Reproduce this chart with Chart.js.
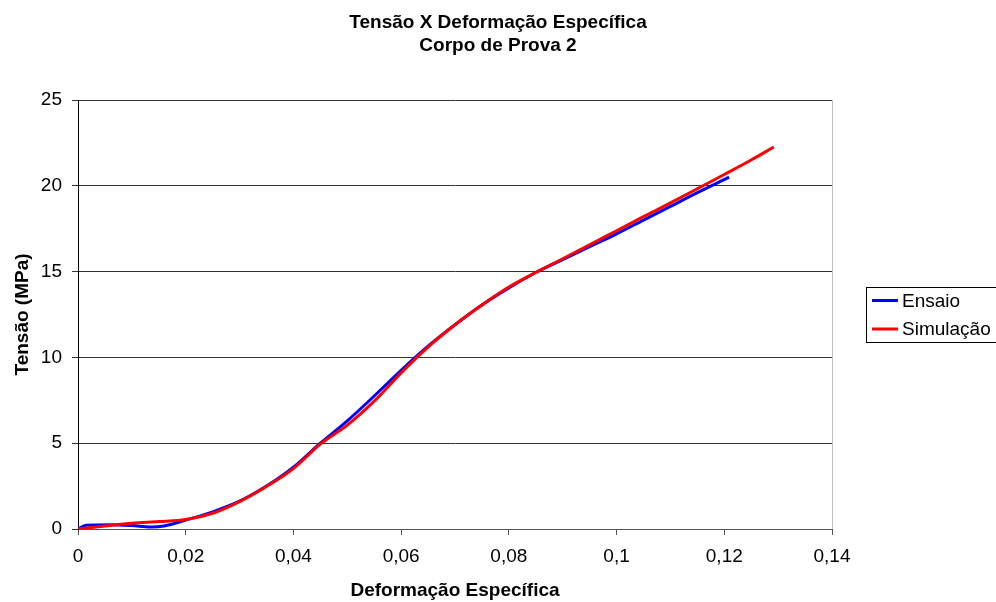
<!DOCTYPE html>
<html>
<head>
<meta charset="utf-8">
<script src="https://cdn.jsdelivr.net/npm/chart.js@4/dist/chart.umd.min.js"></script>
<style>
html,body{margin:0;padding:0;background:#fff;}
#wrap{width:996px;height:602px;}
</style>
</head>
<body>
<div id="wrap"><canvas id="c" width="996" height="602"></canvas></div>
<script>
// ---- data ----
const titleLines = ["Tensão X Deformação Específica", "Corpo de Prova 2"];
const xAxisTitle = "Deformação Específica";
const yAxisTitle = "Tensão (MPa)";
const seriesNames = ["Ensaio", "Simulação"];

const ensaioX = [0, 0.0015, 0.006, 0.01, 0.0135, 0.016, 0.02, 0.025, 0.03, 0.035, 0.04, 0.045, 0.05, 0.055, 0.06, 0.065, 0.07, 0.075, 0.08, 0.085, 0.09, 0.095, 0.1, 0.105, 0.11, 0.115, 0.1209];
const ensaioY = [0, 0.22, 0.25, 0.2, 0.12, 0.18, 0.52, 1.0, 1.62, 2.5, 3.6, 5.0, 6.3, 7.75, 9.25, 10.65, 11.9, 13.05, 14.05, 14.95, 15.7, 16.45, 17.2, 18.0, 18.8, 19.6, 20.5];

const simX = [0, 0.005, 0.01, 0.015, 0.02, 0.025, 0.03, 0.035, 0.04, 0.045, 0.05, 0.055, 0.06, 0.065, 0.07, 0.075, 0.08, 0.085, 0.09, 0.095, 0.1, 0.105, 0.11, 0.115, 0.12, 0.125, 0.1292];
const simY = [0, 0.17, 0.33, 0.43, 0.55, 0.92, 1.6, 2.48, 3.52, 4.95, 6.05, 7.45, 9.1, 10.6, 11.9, 13.05, 14.1, 14.95, 15.75, 16.56, 17.38, 18.2, 19.0, 19.83, 20.66, 21.5, 22.26];

const xTicks = [0, 0.02, 0.04, 0.06, 0.08, 0.1, 0.12, 0.14];
const yTicks = [0, 5, 10, 15, 20, 25];

const seriesColors = ["#0000ff", "#ff0000"];

function toPoints(xs, ys) { return xs.map((x, i) => ({x: x, y: ys[i]})); }

const FONT = "'Liberation Sans', Arial, sans-serif";

const decorPlugin = {
  id: 'decor',
  afterDraw(chart) {
    const ctx = chart.ctx;
    ctx.save();
    // chart title (two lines, centred on the page)
    ctx.fillStyle = '#000';
    ctx.font = 'bold 19px ' + FONT;
    ctx.textAlign = 'center';
    ctx.textBaseline = 'alphabetic';
    ctx.fillText(titleLines[0], 498, 28);
    ctx.fillText(titleLines[1], 498, 51);
    // plot-area right border (light gray)
    const a = chart.chartArea;
    ctx.strokeStyle = '#c0c0c0';
    ctx.lineWidth = 1;
    ctx.beginPath();
    ctx.moveTo(Math.round(a.right) + 0.5, a.top);
    ctx.lineTo(Math.round(a.right) + 0.5, a.bottom);
    ctx.stroke();
    // legend box
    ctx.strokeStyle = '#000';
    ctx.lineWidth = 1;
    ctx.strokeRect(866.5, 287.5, 140, 55);
    const ys = [300.5, 329];
    chart.data.datasets.forEach((ds, i) => {
      ctx.strokeStyle = ds.borderColor;
      ctx.lineWidth = 3;
      ctx.beginPath();
      ctx.moveTo(872, ys[i]);
      ctx.lineTo(898, ys[i]);
      ctx.stroke();
      ctx.fillStyle = '#000';
      ctx.font = '19px ' + FONT;
      ctx.textAlign = 'left';
      ctx.textBaseline = 'middle';
      ctx.fillText(ds.label, 902, ys[i] + 1);
    });
    ctx.restore();
  }
};

new Chart(document.getElementById('c'), {
  type: 'line',
  data: {
    datasets: [
      { label: seriesNames[0], order: 1, data: toPoints(ensaioX, ensaioY), borderColor: seriesColors[0], backgroundColor: seriesColors[0], borderWidth: 3, pointRadius: 0, cubicInterpolationMode: 'monotone', fill: false },
      { label: seriesNames[1], order: 0, data: toPoints(simX, simY), borderColor: seriesColors[1], backgroundColor: seriesColors[1], borderWidth: 3, pointRadius: 0, cubicInterpolationMode: 'monotone', fill: false }
    ]
  },
  options: {
    responsive: false,
    animation: false,
    events: [],
    layout: { padding: { left: 0, right: 164, top: 100, bottom: 0 } },
    plugins: {
      legend: { display: false },
      tooltip: { enabled: false },
      title: { display: false }
    },
    scales: {
      x: {
        type: 'linear',
        min: 0, max: 0.14,
        afterBuildTicks: (s) => { s.ticks = xTicks.map(v => ({value: v})); },
        afterFit: (s) => { s.height = 73; },
        border: { display: true, color: '#555', width: 1 },
        grid: { display: true, drawOnChartArea: false, drawTicks: true, tickLength: 6, tickColor: '#555' },
        ticks: {
          color: '#000', padding: 10, maxRotation: 0,
          font: { family: FONT, size: 19 },
          callback: (v) => String(+Number(v).toFixed(2)).replace('.', ',')
        },
        title: {
          display: true, text: xAxisTitle, color: '#000',
          font: { family: FONT, size: 19, weight: 'bold', lineHeight: 1.2 },
          padding: { top: 0, bottom: 0 }
        }
      },
      y: {
        type: 'linear',
        min: 0, max: 25,
        afterBuildTicks: (s) => { s.ticks = yTicks.map(v => ({value: v})); },
        afterFit: (s) => { s.width = 78; },
        border: { display: true, color: '#000', width: 1 },
        grid: { display: true, drawOnChartArea: true, color: '#333', drawTicks: true, tickLength: 6, tickColor: '#333' },
        ticks: {
          color: '#000', padding: 10,
          font: { family: FONT, size: 19 },
          callback: (v) => String(v)
        },
        title: {
          display: true, text: yAxisTitle, color: '#000',
          font: { family: FONT, size: 19, weight: 'bold', lineHeight: 1.2 },
          padding: { top: 11, bottom: 0 }
        }
      }
    }
  },
  plugins: [decorPlugin]
});
</script>
</body>
</html>
